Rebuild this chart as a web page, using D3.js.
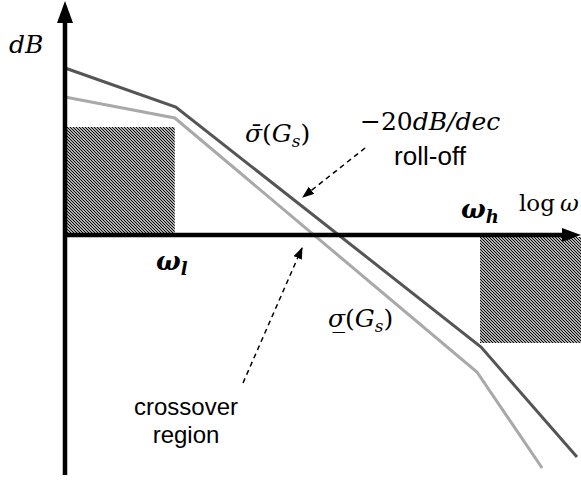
<!DOCTYPE html>
<html>
<head>
<meta charset="utf-8">
<script src="https://cdn.jsdelivr.net/npm/d3@7"></script>
<style>
  html, body { margin: 0; padding: 0; background: #fff; }
  svg { display: block; }
  .math { font-family: "DejaVu Serif", serif; }
  .sans { font-family: "Liberation Sans", Arial, sans-serif; }
</style>
</head>
<body>
<svg id="chart" width="581" height="480"></svg>
<script>
// Singular-value loop shaping sketch: log-frequency on x, gain (dB) on y.

// Upper singular value  σ̄(Gs): breakpoints (log ω units, dB)
const upperLogW = [0, 21.6, 81.1, 99.8];
const upperDb   = [33.4, 25.6, -22.4, -44.4];

// Lower singular value  σ(Gs)
const lowerLogW = [0, 21.4, 80.3, 93.0];
const lowerDb   = [27.6, 23.4, -27.4, -46.6];

// Performance barrier at low frequency (ω < ωl) and robustness barrier at high frequency (ω > ωh)
const lowBarrierLogW  = [0.4, 21.4];
const lowBarrierDb    = [21.6, 0];
const highBarrierLogW = [80.9, 100.6];
const highBarrierDb   = [-0.4, -21.6];

// Annotation arrows: [from, to] in (log ω, dB)
const rollOffArrow   = [[58.5, 17.4], [46.4, 7.6]];
const crossoverArrow = [[34.7, -29.6], [46.2, -2.6]];

const svg = d3.select("#chart");

const x = d3.scaleLinear().domain([0, 100]).range([65, 578]);
const y = d3.scaleLinear().domain([47, -48]).range([0, 475]);

// Diagonal hatch for the barrier regions
const defs = svg.append("defs");
const pat = defs.append("pattern")
  .attr("id", "hatch")
  .attr("patternUnits", "userSpaceOnUse")
  .attr("width", 3).attr("height", 3);
pat.append("rect").attr("width", 3).attr("height", 3).attr("fill", "#fff");
pat.append("path")
  .attr("d", "M-1,-1 L4,4 M-1,2 L1,4 M2,-1 L4,1")
  .attr("stroke", "#000")
  .attr("stroke-width", 1.2);

defs.append("marker")
  .attr("id", "head2")
  .attr("viewBox", "0 0 10 10")
  .attr("refX", 9).attr("refY", 5)
  .attr("markerWidth", 12).attr("markerHeight", 9)
  .attr("markerUnits", "userSpaceOnUse")
  .attr("orient", "auto")
  .attr("preserveAspectRatio", "none")
  .append("path")
  .attr("d", "M0,0 L10,5 L0,10 Z")
  .attr("fill", "#000");

// Barrier boxes
[[lowBarrierLogW, lowBarrierDb], [highBarrierLogW, highBarrierDb]].forEach(([w, db]) => {
  svg.append("rect")
    .attr("x", x(w[0]))
    .attr("y", y(d3.max(db)))
    .attr("width", x(w[1]) - x(w[0]))
    .attr("height", y(d3.min(db)) - y(d3.max(db)))
    .attr("fill", "url(#hatch)");
});

// Singular value curves
const line = d3.line().x(d => x(d[0])).y(d => y(d[1]));
svg.append("path")
  .datum(d3.zip(lowerLogW, lowerDb))
  .attr("d", line)
  .attr("fill", "none")
  .attr("stroke", "#a9a9a9")
  .attr("stroke-width", 3);
svg.append("path")
  .datum(d3.zip(upperLogW, upperDb))
  .attr("d", line)
  .attr("fill", "none")
  .attr("stroke", "#555555")
  .attr("stroke-width", 3);

// Axes with arrow heads
const x0 = x(0), y0 = y(0);
svg.append("line")
  .attr("x1", x0).attr("y1", y.range()[1])
  .attr("x2", x0).attr("y2", 14)
  .attr("stroke", "#000").attr("stroke-width", 4.5);
svg.append("path")
  .attr("d", `M${x0},1 L${x0 - 8},23 L${x0 + 8},23 Z`)
  .attr("fill", "#000");
svg.append("line")
  .attr("x1", x0 - 2).attr("y1", y0)
  .attr("x2", 570).attr("y2", y0)
  .attr("stroke", "#000").attr("stroke-width", 4.5);
svg.append("path")
  .attr("d", `M581,${y0} L562,${y0 - 7} L562,${y0 + 7} Z`)
  .attr("fill", "#000");

// Dashed annotation arrows
[rollOffArrow, crossoverArrow].forEach(a => {
  svg.append("line")
    .attr("x1", x(a[0][0])).attr("y1", y(a[0][1]))
    .attr("x2", x(a[1][0])).attr("y2", y(a[1][1]))
    .attr("stroke", "#000")
    .attr("stroke-width", 1.5)
    .attr("stroke-dasharray", "5,4")
    .attr("marker-end", "url(#head2)");
});

// Labels
const t = (cls, px, py, size) => svg.append("text")
  .attr("class", cls).attr("x", px).attr("y", py)
  .attr("font-size", size).attr("fill", "#000");

t("math", 9, 53, 25).attr("font-style", "italic").text("dB");

const rate = t("math", 360, 130, 25);
rate.append("tspan").text("−20");
rate.append("tspan").attr("font-style", "italic").text("dB/dec");

t("sans", 430, 165, 26).attr("text-anchor", "middle").text("roll-off");

const sMax = t("math", 245, 142, 25);
sMax.append("tspan").attr("font-style", "italic").text("σ\u0304");
sMax.append("tspan").text("(");
sMax.append("tspan").attr("font-style", "italic").text("G");
sMax.append("tspan").attr("font-style", "italic").attr("font-size", 17).attr("dy", 5).text("s");
sMax.append("tspan").attr("dy", -5).text(")");

const sMin = t("math", 328, 327, 25);
sMin.append("tspan").attr("font-style", "italic").text("σ\u0332");
sMin.append("tspan").text("(");
sMin.append("tspan").attr("font-style", "italic").text("G");
sMin.append("tspan").attr("font-style", "italic").attr("font-size", 17).attr("dy", 5).text("s");
sMin.append("tspan").attr("dy", -5).text(")");

const wh = t("math", 461, 218, 26).attr("font-weight", "bold").attr("font-style", "italic");
wh.append("tspan").text("ω");
wh.append("tspan").attr("font-size", 18).attr("dy", 5).text("h");

const wl = t("math", 156, 270, 26).attr("font-weight", "bold").attr("font-style", "italic");
wl.append("tspan").text("ω");
wl.append("tspan").attr("font-size", 18).attr("dy", 5).text("l");

const lw = t("math", 519, 211, 23);
lw.append("tspan").text("log");
lw.append("tspan").attr("dx", 5).attr("font-style", "italic").text("ω");

t("sans", 186, 415, 24).attr("text-anchor", "middle").text("crossover");
t("sans", 186, 443, 24).attr("text-anchor", "middle").text("region");
</script>
</body>
</html>
